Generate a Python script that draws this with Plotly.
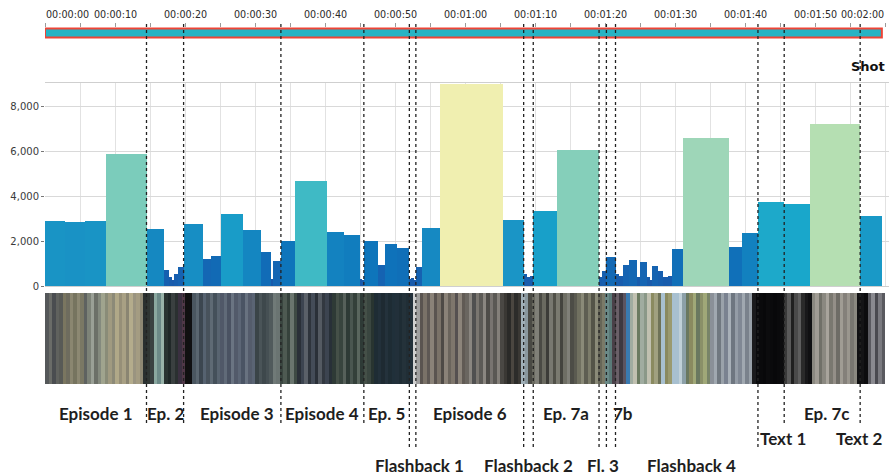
import plotly.graph_objects as go

# ---- data -----------------------------------------------------------------
# Story segments, the row their caption sits in (1 = episode, 2 = text card,
# 3 = flashback) and the length of every shot in each segment (milliseconds).
segment_names = ["Episode 1", "Ep. 2", "Episode 3", "Episode 4", "Ep. 5",
                 "Flashback 1", "Episode 6", "Flashback 2", "Ep. 7a", "Fl. 3",
                 "7b", "Flashback 4", "Text 1", "Ep. 7c", "Text 2"]
segment_rows = [1, 1, 1, 1, 1, 3, 1, 3, 1, 3, 1, 3, 2, 1, 2]
segment_shots = [
    [2900, 2850, 2900, 5850],
    [2550, 700, 400, 250, 550, 850],
    [2750, 1200, 1350, 3200, 2500, 1500, 300, 1100],
    [2000, 4650, 2400, 2250, 300, 250],
    [2000, 950, 1850, 1700],
    [300, 350, 280],
    [850, 2600, 9000, 2950],
    [520, 400, 450],
    [3350, 6050],
    [400, 650],
    [1300],
    [550, 450, 950, 1150, 400, 1050, 400, 250, 900, 650, 400, 400, 450,
     1650, 6600, 1750, 2350],
    [3750],
    [3650, 7200],
    [3100],
]

# Timeline tick labels (seconds)
time_ticks = [0, 10, 20, 30, 40, 50, 60, 70, 80, 90, 100, 110, 120]
minor_ticks = list(range(0, 125, 5))

# Average frame colour, one sample every half second
frame_step = 0.5
frame_colors = [
    "#55585a", "#6a6c68", "#4a4d50", "#60625e", "#585a56", "#7a7660", "#6e6c5e", "#8a8670", "#76745f", "#8c8872",
    "#7a7864", "#5e6260", "#7d8378", "#9aa096", "#6c7068", "#848a7e", "#a0a48e", "#8a8c78", "#a09a80", "#8c8a78",
    "#b0a888", "#968f78", "#a8a084", "#8a8572", "#b4ac8c", "#9a9480", "#a49c82", "#8e8874", "#2a3030", "#303634",
    "#3a4242", "#8aa8a0", "#6c8a88", "#9ab4aa", "#2a3432", "#202828", "#3a4040", "#2a3030", "#3a3040", "#503848",
    "#101010", "#101012", "#4a5660", "#5a6670", "#3c4650", "#566270", "#48525c", "#5e6a74", "#44505a", "#586470",
    "#505868", "#606a78", "#4a5262", "#6a7482", "#525a6a", "#5c6676", "#4a5464", "#687280", "#545c6c", "#5a6474",
    "#3a4448", "#4a5458", "#3e484c", "#465054", "#505a5c", "#707a78", "#6a7472", "#3a4640", "#4e5a52", "#36423c",
    "#6a756e", "#3e4a44", "#2a3038", "#3c4450", "#5a6068", "#2e343c", "#444c58", "#2a3038", "#545a62", "#323840",
    "#3c4450", "#283038", "#2e3a36", "#455048", "#38443e", "#56605a", "#2e3a36", "#4a5650", "#34403a", "#5a665e",
    "#2e3a36", "#455048", "#3a4640", "#283430", "#1e2c34", "#22303a", "#1e2a32", "#24323c", "#1e2c34", "#20303a",
    "#22303a", "#1e2c34", "#24323a", "#202e36", "#22303a", "#d0d0d0", "#a0a0a0", "#5a5450", "#7a7268", "#5e5854",
    "#8a8278", "#5a5450", "#7a7268", "#4e4a46", "#8a8278", "#6a645c", "#7e766c", "#555050", "#8c847a", "#605a54",
    "#6a6660", "#8a8680", "#505050", "#7a7670", "#5c5a56", "#8a8680", "#4e4c48", "#787470", "#5a5854", "#84807a",
    "#4a4844", "#3a3834", "#2a2a28", "#4a4640", "#2c2c2a", "#3a3834", "#a0b0b8", "#8a989e", "#4a4a44", "#6a6a60",
    "#808078", "#4a4a44", "#6a6a60", "#3c3c38", "#787870", "#505048", "#7a7a70", "#44443e", "#6e6e64", "#808078",
    "#4c4c46", "#5a5a50", "#707060", "#8a8a78", "#5e5e52", "#7c7c6a", "#545448", "#8a8a78", "#666658", "#7a7a68",
    "#6a8a88", "#5a7a78", "#4a4048", "#6a6068", "#3e3840", "#5c5460", "#3a7ab0", "#a0aca0", "#c0c0b0", "#6a7a60",
    "#a0aca0", "#8a9888", "#c0c0b0", "#8a8a60", "#a0a080", "#6e7258", "#a8c0d0", "#8a8a60", "#9a9a70", "#a8c0d0",
    "#a8c0d0", "#c0d0d8", "#8ca0a8", "#6a7860", "#8a8a60", "#a0a878", "#6a7860", "#8a9068", "#a0a878", "#788468",
    "#8a9098", "#a0a8b0", "#707880", "#9aa2aa", "#7a8290", "#a8b0b8", "#6e7680", "#949ca6", "#808894", "#a0a8b0",
    "#7a828c", "#98a0a8", "#1a1a1c", "#0a0a0c", "#0a0a0c", "#08080a", "#0c0c0e", "#0a0a0c", "#08080a", "#0a0a0c",
    "#0c0c0e", "#3a3a3a", "#5a5a5a", "#202020", "#4a4a4a", "#5e5e5e", "#2a2a2a", "#18181a", "#101012", "#8a8880",
    "#a09c94", "#707068", "#8a8880", "#a8a49c", "#7a7870", "#948f88", "#6e6c66", "#a09c94", "#84807a", "#9a968e",
    "#787670", "#8a8880", "#101012", "#141416", "#0c0c0e", "#5a5a60", "#8a8a90", "#4a4a50", "#7a7a80", "#5a5a60",
]

# ---- derived positions ----------------------------------------------------
shot_len, shot_start = [], []
seg_start, seg_end = [], []
t = 0.0
for shots in segment_shots:
    seg_start.append(t)
    for d in shots:
        shot_start.append(t)
        shot_len.append(d)
        t += d / 1000.0
    seg_end.append(t)
film_end = t

W, H = 889, 475
PX_PER_S = 7.0
X0_PX = 45
x_range = [0, (W - X0_PX) / PX_PER_S]
x_dom = [X0_PX / W, 1.0]


def py(px):
    """pixel row -> paper y"""
    return (H - px) / H


fig = go.Figure()

# Shot length bars: width and height are the same shot duration
length_scale = [
    [0.00, "#1a56a8"], [0.11, "#1564b2"], [0.22, "#0e74bb"], [0.33, "#1a96c6"],
    [0.40, "#17a6cb"], [0.51, "#3cb9c6"], [0.66, "#80cdba"], [0.73, "#9dd6b8"],
    [0.80, "#b5dfb2"], [1.00, "#f0efb0"],
]
fig.add_trace(go.Bar(
    x=[s + d / 2000.0 for s, d in zip(shot_start, shot_len)],
    y=shot_len,
    width=[d / 1000.0 for d in shot_len],
    marker=dict(color=shot_len, colorscale=length_scale, cmin=0, cmax=9000,
                line=dict(width=0)),
    xaxis="x", yaxis="y", hoverinfo="y", showlegend=False,
))

# Colour barcode of the film
fig.add_trace(go.Bar(
    x=[(i + 0.5) * frame_step for i in range(len(frame_colors))],
    y=[1] * len(frame_colors),
    width=frame_step,
    marker=dict(color=frame_colors, line=dict(width=0)),
    xaxis="x2", yaxis="y2", hoverinfo="skip", showlegend=False,
))

# Invisible trace to hold the timeline axis
fig.add_trace(go.Scatter(x=[0, film_end], y=[0.5, 0.5], mode="lines",
                         line=dict(width=0), xaxis="x3", yaxis="y3",
                         hoverinfo="skip", showlegend=False))

fig.update_layout(
    width=W, height=H,
    margin=dict(l=0, r=0, t=0, b=0, autoexpand=False),
    paper_bgcolor="white", plot_bgcolor="white",
    bargap=0,
    xaxis=dict(domain=x_dom, range=x_range, anchor="y", showticklabels=False,
               showgrid=True, gridcolor="#e2e2e2", gridwidth=1, tick0=0, dtick=5,
               ticks="", zeroline=False, showline=True, linecolor="#cfcfcf",
               linewidth=1, mirror=True),
    yaxis=dict(domain=[py(286), py(83)], range=[0, 9022], dtick=2000,
               tickformat=",d", showgrid=True, gridcolor="#d9d9d9",
               ticks="outside", ticklen=3, tickcolor="#777", zeroline=False,
               showline=False,
               tickfont=dict(family="DejaVu Sans", size=10, color="#3a3a3a")),
    xaxis2=dict(domain=x_dom, range=x_range, anchor="y2", visible=False),
    yaxis2=dict(domain=[py(384), py(293)], range=[0, 1], visible=False),
    xaxis3=dict(domain=x_dom, range=x_range, anchor="y3", side="top",
                tickvals=minor_ticks, ticks="outside", ticklen=4,
                tickcolor="#9a9a9a", showticklabels=False, showgrid=False,
                zeroline=False, showline=False),
    yaxis3=dict(domain=[py(38), py(28)], range=[0, 1], visible=False),
)

shapes = []
# Film timeline bar
shapes.append(dict(type="rect", xref="x3", yref="paper", x0=0, x1=film_end,
                   y0=py(37.5), y1=py(28.5), fillcolor="#27b3c4",
                   line=dict(color="#ee4436", width=2), layer="above"))

# Segment boundaries
for i in range(len(segment_names) - 1):
    deep = segment_rows[i] == 3 or segment_rows[i + 1] == 3
    bottom = 447 if deep else 423
    shapes.append(dict(type="line", xref="x", yref="paper",
                       x0=seg_end[i], x1=seg_end[i], y0=py(bottom), y1=py(22),
                       line=dict(color="#222", width=1.3, dash="dot"),
                       layer="above"))
fig.update_layout(shapes=shapes)

annotations = []
# Timeline labels
for tv in time_ticks:
    anchor = "left" if tv == time_ticks[0] else ("right" if tv == time_ticks[-1] else "center")
    annotations.append(dict(
        x=tv, xref="x3", y=py(15), yref="paper",
        text="%02d:%02d:%02d" % (tv // 3600, (tv % 3600) // 60, tv % 60),
        showarrow=False, xanchor=anchor, yanchor="middle", borderpad=0,
        font=dict(family="DejaVu Sans", size=9.6, color="#2a2a2a")))

# Segment captions
row_y = {1: 413, 2: 438, 3: 465}
caption_anchor = {"7b": "left", "Text 1": "left", "Text 2": "right"}
caption_shift = {"Episode 3": 5, "Flashback 1": 7, "Flashback 4": 5,
                 "Ep. 7c": 4, "7b": 5, "Text 2": 2}
for name, row, s0, s1 in zip(segment_names, segment_rows, seg_start, seg_end):
    anchor = caption_anchor.get(name, "center")
    xpos = {"left": s0, "right": s1}.get(anchor, (s0 + s1) / 2)
    annotations.append(dict(
        x=xpos, xref="x", y=py(row_y[row]), yref="paper", text="<b>%s</b>" % name,
        showarrow=False, xanchor=anchor, yanchor="middle",
        xshift=caption_shift.get(name, 0),
        font=dict(family="Lato", size=17, color="#1e1e1e")))

annotations.append(dict(x=849 / W, xref="paper", y=py(67), yref="paper",
                        text="<b>Shot</b>", showarrow=False, xanchor="left",
                        yanchor="middle",
                        font=dict(family="DejaVu Sans", size=13, color="#111")))
fig.update_layout(annotations=annotations)

fig.write_html("out.html")
